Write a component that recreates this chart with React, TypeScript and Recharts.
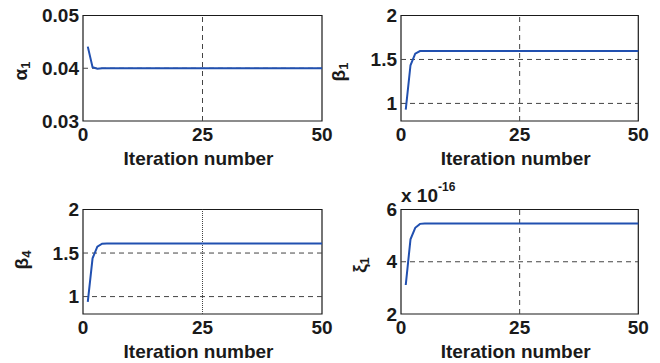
import React from "react";
import {
  LineChart,
  Line,
  XAxis,
  YAxis,
  ReferenceLine,
  ReferenceArea,
  Label,
} from "recharts";

const iterations = [1, 2, 3, 4, 5, 10, 15, 20, 25, 30, 35, 40, 45, 50];

const alpha1 = [0.0441, 0.0402, 0.0399, 0.04, 0.04, 0.04, 0.04, 0.04, 0.04, 0.04, 0.04, 0.04, 0.04, 0.04];
const beta1 = [0.93, 1.434, 1.566, 1.596, 1.597, 1.597, 1.597, 1.597, 1.597, 1.597, 1.597, 1.597, 1.597, 1.597];
const beta4 = [0.94, 1.44, 1.573, 1.607, 1.609, 1.609, 1.609, 1.609, 1.609, 1.609, 1.609, 1.609, 1.609, 1.609];
const xi1 = [3.11, 4.86, 5.3, 5.45, 5.46, 5.46, 5.46, 5.46, 5.46, 5.46, 5.46, 5.46, 5.46, 5.46];

const xTicks = [0, 25, 50];
const alphaTicks = [0.03, 0.04, 0.05];
const betaTicks = [1, 1.5, 2];
const xiTicks = [2, 4, 6];

const FONT = '"Liberation Sans", Arial, Helvetica, sans-serif';
const INK = "#1a1a1a";
const BLUE = "#2150b0";
const tickStyle = { fontFamily: FONT, fontWeight: 700, fontSize: 19, fill: INK };

interface PanelProps {
  left: number;
  top: number;
  width: number;
  height: number;
  plot: { x0: number; x1: number; y0: number; y1: number }; // in chart coords
  values: number[];
  domain: [number, number];
  yTicks: number[];
  hGrid: number[];
  vDash: string;
  sym: string;
  sub: string;
  titleX: number;
  titleY: number;
}

function Panel(p: PanelProps) {
  const data = iterations.map((it, i) => ({ it, v: p.values[i] }));
  const margin = { top: p.plot.y0, right: p.width - p.plot.x1, left: 0, bottom: 0 };
  const yWidth = p.plot.x0;
  const xHeight = p.height - p.plot.y1;
  const midX = (p.plot.x0 + p.plot.x1) / 2 - 4;

  return (
    <div style={{ position: "absolute", left: p.left, top: p.top }}>
      <LineChart width={p.width} height={p.height} data={data} margin={margin}>
        <XAxis
          dataKey="it"
          type="number"
          domain={[0, 50]}
          ticks={xTicks}
          interval={0}
          axisLine={false}
          tickLine={false}
          tickSize={0}
          tickMargin={7}
          height={xHeight}
          tick={tickStyle}
        >
          <Label
            content={() => (
              <text
                x={midX}
                y={p.plot.y1 + 44}
                textAnchor="middle"
                fontFamily={FONT}
                fontWeight={700}
                fontSize={19}
                fill={INK}
              >
                Iteration number
              </text>
            )}
          />
        </XAxis>
        <YAxis
          type="number"
          domain={p.domain}
          ticks={p.yTicks}
          interval={0}
          allowDataOverflow
          axisLine={false}
          tickLine={false}
          tickSize={0}
          tickMargin={4}
          width={yWidth}
          tick={tickStyle}
        >
          <Label
            content={() => (
              <text
                x={p.titleX}
                y={p.titleY}
                transform={`rotate(-90 ${p.titleX} ${p.titleY})`}
                textAnchor="middle"
                fontFamily={FONT}
                fontWeight={700}
                fontSize={19}
                fill={INK}
              >
                {p.sym}
                <tspan fontSize={13} dy={3}>
                  {p.sub}
                </tspan>
              </text>
            )}
          />
        </YAxis>
        {p.hGrid.map((g) => (
          <ReferenceLine key={g} y={g} stroke="#444" strokeWidth={1} strokeDasharray="5 4" />
        ))}
        <ReferenceLine x={25} stroke="#444" strokeWidth={1} strokeDasharray={p.vDash} />
        <Line
          type="linear"
          dataKey="v"
          stroke={BLUE}
          strokeWidth={2}
          dot={false}
          isAnimationActive={false}
        />
        <ReferenceArea
          x1={0}
          x2={50}
          y1={p.domain[0]}
          y2={p.domain[1]}
          fill="none"
          fillOpacity={0}
          stroke={INK}
          strokeWidth={1.2}
          ifOverflow="visible"
        />
      </LineChart>
    </div>
  );
}

export default function App() {
  return (
    <div style={{ position: "absolute", left: 0, top: 0, width: 660, height: 363, background: "#fff", overflow: "hidden" }}>
      <Panel
        left={0}
        top={0}
        width={345}
        height={180}
        plot={{ x0: 83, x1: 322, y0: 15.5, y1: 121 }}
        values={alpha1}
        domain={[0.03, 0.05]}
        yTicks={alphaTicks}
        hGrid={[0.04]}
        vDash="5 4"
        sym="α"
        sub="1"
        titleX={27}
        titleY={71}
      />
      <Panel
        left={320}
        top={0}
        width={340}
        height={180}
        plot={{ x0: 81, x1: 318.3, y0: 15.5, y1: 121 }}
        values={beta1}
        domain={[0.8, 2]}
        yTicks={betaTicks}
        hGrid={[1, 1.5]}
        vDash="5 4"
        sym="β"
        sub="1"
        titleX={25}
        titleY={72}
      />
      <Panel
        left={0}
        top={180}
        width={345}
        height={183}
        plot={{ x0: 83, x1: 322, y0: 29.5, y1: 134 }}
        values={beta4}
        domain={[0.8, 2]}
        yTicks={betaTicks}
        hGrid={[1, 1.5]}
        vDash="1 1"
        sym="β"
        sub="4"
        titleX={28}
        titleY={80}
      />
      <Panel
        left={320}
        top={180}
        width={340}
        height={183}
        plot={{ x0: 81, x1: 318.3, y0: 29.5, y1: 134 }}
        values={xi1}
        domain={[2, 6]}
        yTicks={xiTicks}
        hGrid={[4]}
        vDash="5 4"
        sym="ξ"
        sub="1"
        titleX={46}
        titleY={85}
      />
      <svg
        width={120}
        height={30}
        style={{ position: "absolute", left: 400, top: 178 }}
      >
        <text x={1} y={23.5} fontFamily={FONT} fontWeight={700} fontSize={19} fill={INK}>
          x 10
          <tspan fontSize={12} dy={-11}>
            -16
          </tspan>
        </text>
      </svg>
    </div>
  );
}
